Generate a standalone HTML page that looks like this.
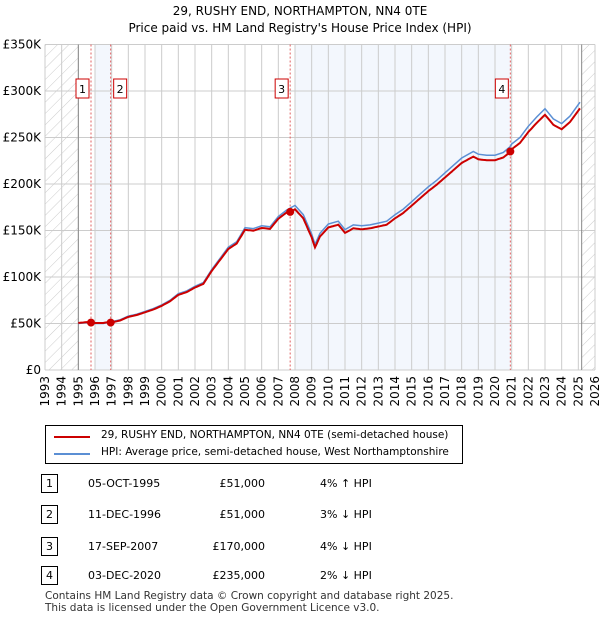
<!DOCTYPE html>
<html><head><meta charset="utf-8"><style>
body{margin:0;background:#fff;font-family:"DejaVu Sans","Liberation Sans",sans-serif;}
#wrap{position:relative;width:600px;height:620px;overflow:hidden;}
.t{position:absolute;font-size:11px;color:#000;white-space:nowrap;}
</style></head><body>
<div id="wrap">
<svg id="chart" width="600" height="420" style="position:absolute;left:0;top:0" font-family="DejaVu Sans, Liberation Sans, sans-serif">
<defs><pattern id="hatch" width="8" height="8" patternUnits="userSpaceOnUse" patternTransform="rotate(45)"><line x1="0" y1="0" x2="0" y2="8" stroke="#ccc" stroke-width="1"/></pattern></defs>
<text x="300" y="15" text-anchor="middle" font-size="12">29, RUSHY END, NORTHAMPTON, NN4 0TE</text>
<text x="300" y="32" text-anchor="middle" font-size="12">Price paid vs. HM Land Registry's House Price Index (HPI)</text>
<g id="g"></g>
</svg>
<div style="position:absolute;left:45px;top:425px;width:416px;height:37px;border:1px solid #000;">
<div style="position:absolute;left:8px;top:10px;width:36px;height:2px;background:#cc0000"></div>
<div class="t" style="left:55px;top:3px;font-size:10.5px">29, RUSHY END, NORTHAMPTON, NN4 0TE (semi-detached house)</div>
<div style="position:absolute;left:8px;top:27px;width:36px;height:2px;background:#5b8fd4"></div>
<div class="t" style="left:55px;top:20px;font-size:10.5px">HPI: Average price, semi-detached house, West Northamptonshire</div>
</div>
<div id="tbl"></div>
<div class="t" style="left:45px;top:590px;font-size:10.5px;color:#333">Contains HM Land Registry data © Crown copyright and database right 2025.</div>
<div class="t" style="left:45px;top:602px;font-size:10.5px;color:#333">This data is licensed under the Open Government Licence v3.0.</div>
</div>
<script>
const hpiYears=[1995,1995.5,1996,1996.5,1997,1997.5,1998,1998.5,1999,1999.5,2000,2000.5,2001,2001.5,2002,2002.5,2003,2003.5,2004,2004.5,2005,2005.5,2006,2006.5,2007,2007.5,2008,2008.5,2009,2009.2,2009.5,2010,2010.6,2011,2011.5,2012,2012.5,2013,2013.5,2014,2014.5,2015,2015.5,2016,2016.5,2017,2017.5,2018,2018.7,2019,2019.5,2020,2020.5,2020.9,2021,2021.5,2022,2022.5,2023,2023.5,2024,2024.5,2025.1];
const hpiValues=[50,51,50,50,52,54,58,60,63,66,70,75,82,85,90,94,108,120,132,138,153,152,155,154,165,172,177,167,146,135,147,157,160,151,156,155,156,158,160,167,173,181,189,197,204,212,220,228,235,232,231,231,234,240,243,250,262,272,281,270,265,273,288];
const saleLabels=["1","2","3","4"];
const saleYears=[1995.76,1996.94,2007.71,2020.92];
const salePrices=[51000,51000,170000,235000];
const saleDates=["05-OCT-1995","11-DEC-1996","17-SEP-2007","03-DEC-2020"];
const salePriceText=["£51,000","£51,000","£170,000","£235,000"];
const saleHpiText=["4% ↑ HPI","3% ↓ HPI","4% ↓ HPI","2% ↓ HPI"];
const yTicks=[0,50,100,150,200,250,300,350];
const yTickLabels=["£0","£50K","£100K","£150K","£200K","£250K","£300K","£350K"];

const X0=45,X1=595,Y0=370,Y1=44.5,YR0=1993,YR1=2026,VMAX=350;
const xs=y=>X0+(y-YR0)/(YR1-YR0)*(X1-X0);
const ys=v=>Y0-v/VMAX*(Y0-Y1);
const NS="http://www.w3.org/2000/svg";
const g=document.getElementById('g');
function mk(tag,attrs,parent){const e=document.createElementNS(NS,tag);for(const k in attrs)e.setAttribute(k,attrs[k]);(parent||g).appendChild(e);return e;}
function hpiAt(y){for(let i=0;i<hpiYears.length-1;i++){if(y<=hpiYears[i+1]){const t=(y-hpiYears[i])/(hpiYears[i+1]-hpiYears[i]);return hpiValues[i]+t*(hpiValues[i+1]-hpiValues[i]);}}return hpiValues[hpiValues.length-1];}

let e;
e=mk('rect',{x:xs(1996),y:Y1,width:xs(saleYears[1])-xs(1996),height:Y0-Y1,fill:'#eef3fc',opacity:0.7});


e=mk('rect',{x:xs(2008),y:Y1,width:xs(saleYears[3])-xs(2008),height:Y0-Y1,fill:'#eef3fc',opacity:0.7});


e=mk('rect',{x:X0,y:Y1,width:xs(1995)-X0,height:Y0-Y1,fill:'url(#hatch)'});


e=mk('rect',{x:xs(2025.2),y:Y1,width:X1-xs(2025.2),height:Y0-Y1,fill:'url(#hatch)'});


for(let yr=YR0;yr<=YR1;yr++){
 e=mk('line',{x1:xs(yr),x2:xs(yr),y1:Y1,y2:Y0,stroke:'#ccc','stroke-width':1});
 
 
 e=mk('text',{x:0,y:0,'font-size':12,'text-anchor':'end',transform:`translate(${xs(yr)+4},${Y0+6}) rotate(-90)`});
 e.textContent=yr;
 
 
}
yTicks.forEach((v,i)=>{
 e=mk('line',{x1:X0,x2:X1,y1:ys(v),y2:ys(v),stroke:'#ccc','stroke-width':1});
 
 
 e=mk('text',{x:X0-4,y:ys(v)+4,'font-size':12,'text-anchor':'end'});
 e.textContent=yTickLabels[i];
 
 
});
[xs(1995),xs(2025.2)].forEach(x=>{e=mk('line',{x1:x,x2:x,y1:Y1,y2:Y0,stroke:'#888','stroke-width':1});
 
 });
saleYears.forEach((sy,i)=>{
 e=mk('line',{x1:xs(sy),x2:xs(sy),y1:Y1,y2:Y0,stroke:'#e06060','stroke-width':1,'stroke-dasharray':'2,2'});
 
 
});
let d=hpiYears.map((y,i)=>(i?'L':'M')+xs(y).toFixed(1)+','+ys(hpiValues[i]).toFixed(1)).join('');
e=mk('path',{d:d,fill:'none',stroke:'#5b8fd4','stroke-width':1.5});


function priceAt(y){let k=0;for(let i=0;i<saleYears.length;i++)if(y>=saleYears[i])k=i;return hpiAt(y)*(salePrices[k]/1000)/hpiAt(saleYears[k]);}
const pts=[];for(let y=1995;y<=2025.1001;y+=0.1)pts.push(y);saleYears.forEach(s=>pts.push(s));pts.sort((a,b)=>a-b);
d=pts.map((y,i)=>(i?'L':'M')+xs(y).toFixed(1)+','+ys(priceAt(y)).toFixed(1)).join('');
e=mk('path',{d:d,fill:'none',stroke:'#cc0000','stroke-width':2});


saleYears.forEach((sy,i)=>{
 e=mk('circle',{cx:xs(sy),cy:ys(salePrices[i]/1000),r:4,fill:'#cc0000'});
 
 
 const bx=xs(sy)-(i==1?-3:15),by=79;
 e=mk('rect',{x:bx,y:by,width:13,height:19,fill:'#fff',stroke:'#cc0000','stroke-width':1});
 
 
 e=mk('text',{x:bx+6.5,y:by+14,'font-size':11,'text-anchor':'middle'});
 e.textContent=saleLabels[i];
 
 
});
const tbl=document.getElementById('tbl');
const rowY=[474,505,537,566];
saleLabels.forEach((l,i)=>{
 let b=document.createElement('div');b.className='t';
 b.style.cssText=`left:41px;top:${rowY[i]}px;width:15px;height:17px;border:1px solid #000;text-align:center;line-height:17px;font-size:11px`;
 b.textContent=l;
 
 
 tbl.appendChild(b);
 let t=document.createElement('div');t.className='t';t.style.cssText=`left:88px;top:${rowY[i]+3}px`;t.textContent=saleDates[i];
 
 
 tbl.appendChild(t);
 t=document.createElement('div');t.className='t';t.style.cssText=`left:185px;width:80px;text-align:right;top:${rowY[i]+3}px`;t.textContent=salePriceText[i];
 
 
 tbl.appendChild(t);
 t=document.createElement('div');t.className='t';t.style.cssText=`left:320px;top:${rowY[i]+3}px`;t.textContent=saleHpiText[i];
 
 
 tbl.appendChild(t);
});
</script>
</body></html>
